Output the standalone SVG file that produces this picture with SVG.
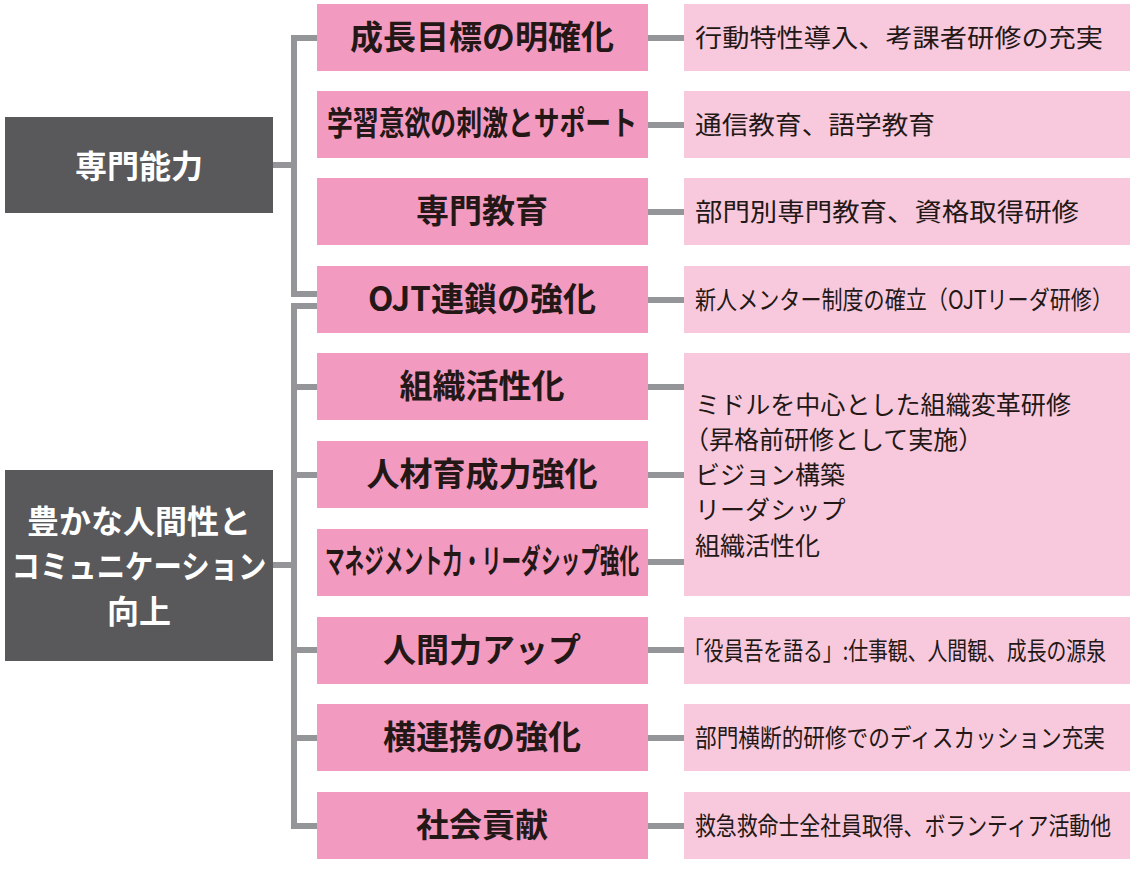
<svg xmlns="http://www.w3.org/2000/svg" width="1133" height="873" viewBox="0 0 1133 873">
<style>
.d{fill:#59595b}
.p{fill:#f39ac1}
.r{fill:#f8c9dd}
.c{stroke:#949598;stroke-width:6;fill:none}
.dt{font-family:"Noto Sans CJK JP",sans-serif;font-weight:bold;fill:#fff;font-size:32px;text-anchor:middle}
.pt{font-family:"Noto Sans CJK JP",sans-serif;font-weight:bold;fill:#231815;font-size:33px;text-anchor:middle}
.rt{font-family:"Noto Sans CJK JP",sans-serif;fill:#231815;font-size:25px}
</style>
<g id="connectors" class="c">
<path d="M317 38H294V294H317M294 165H273"/>
<path d="M317 306H294V826H317M294 565H273"/>
<path d="M294 387H317M294 475H317M294 650H317M294 738H317"/>
<path d="M648 38H684M648 125H684M648 212H684M648 300H684M648 387H684M648 475H684M648 562H684M648 650H684M648 738H684M648 826H684"/>
</g>
<g id="n1"><rect class="d" x="5" y="117" width="268" height="96"/><text class="dt" x="139" y="178" font-size="36">専門能力</text></g>
<g id="n2"><rect class="d" x="5" y="470" width="268" height="191"/><text class="dt" x="139" y="533">豊かな人間性と</text><text class="dt" x="139" y="578" textLength="255" lengthAdjust="spacingAndGlyphs">コミュニケーション</text><text class="dt" x="139" y="623">向上</text></g>
<g id="m1"><rect class="p" x="317" y="4" width="331" height="67"/><text class="pt" x="482" y="49">成長目標の明確化</text></g>
<g id="m2"><rect class="p" x="317" y="91" width="331" height="67"/><text class="pt" x="482" y="135" font-size="28" textLength="310" lengthAdjust="spacingAndGlyphs">学習意欲の刺激とサポート</text></g>
<g id="m3"><rect class="p" x="317" y="178" width="331" height="67"/><text class="pt" x="482" y="223">専門教育</text></g>
<g id="m4"><rect class="p" x="317" y="266" width="331" height="67"/><text class="pt" x="482" y="311">OJT連鎖の強化</text></g>
<g id="m5"><rect class="p" x="317" y="353" width="331" height="67"/><text class="pt" x="482" y="398">組織活性化</text></g>
<g id="m6"><rect class="p" x="317" y="441" width="331" height="67"/><text class="pt" x="482" y="486">人材育成力強化</text></g>
<g id="m7"><rect class="p" x="317" y="529" width="331" height="67"/><text class="pt" x="482" y="573" font-size="26" textLength="314" lengthAdjust="spacingAndGlyphs">マネジメント力・リーダシップ強化</text></g>
<g id="m8"><rect class="p" x="317" y="617" width="331" height="67"/><text class="pt" x="482" y="662">人間力アップ</text></g>
<g id="m9"><rect class="p" x="317" y="704" width="331" height="67"/><text class="pt" x="482" y="749">横連携の強化</text></g>
<g id="m10"><rect class="p" x="317" y="792" width="331" height="67"/><text class="pt" x="482" y="837">社会貢献</text></g>
<g id="r1"><rect class="r" x="684" y="4" width="446" height="67"/><text class="rt" x="695" y="47" textLength="408" lengthAdjust="spacingAndGlyphs">行動特性導入、考課者研修の充実</text></g>
<g id="r2"><rect class="r" x="684" y="91" width="446" height="67"/><text class="rt" x="695" y="134" textLength="240" lengthAdjust="spacingAndGlyphs">通信教育、語学教育</text></g>
<g id="r3"><rect class="r" x="684" y="178" width="446" height="67"/><text class="rt" x="695" y="221" textLength="384" lengthAdjust="spacingAndGlyphs">部門別専門教育、資格取得研修</text></g>
<g id="r4"><rect class="r" x="684" y="266" width="446" height="67"/><text class="rt" x="695" y="309" textLength="418" lengthAdjust="spacingAndGlyphs">新人メンター制度の確立（OJTリーダ研修）</text></g>
<g id="r5"><rect class="r" x="684" y="353" width="446" height="243"/>
<text class="rt" x="695" y="414" textLength="376" lengthAdjust="spacingAndGlyphs">ミドルを中心とした組織変革研修</text>
<text class="rt" x="684" y="449">（昇格前研修として実施）</text>
<text class="rt" x="695" y="484">ビジョン構築</text>
<text class="rt" x="695" y="519">リーダシップ</text>
<text class="rt" x="695" y="555">組織活性化</text></g>
<g id="r6"><rect class="r" x="684" y="617" width="446" height="67"/><text class="rt" x="684" y="660" textLength="422" lengthAdjust="spacingAndGlyphs">「役員吾を語る」:仕事観、人間観、成長の源泉</text></g>
<g id="r7"><rect class="r" x="684" y="704" width="446" height="67"/><text class="rt" x="695" y="747" textLength="410" lengthAdjust="spacingAndGlyphs">部門横断的研修でのディスカッション充実</text></g>
<g id="r8"><rect class="r" x="684" y="792" width="446" height="67"/><text class="rt" x="695" y="835" textLength="416" lengthAdjust="spacingAndGlyphs">救急救命士全社員取得、ボランティア活動他</text></g>
</svg>
